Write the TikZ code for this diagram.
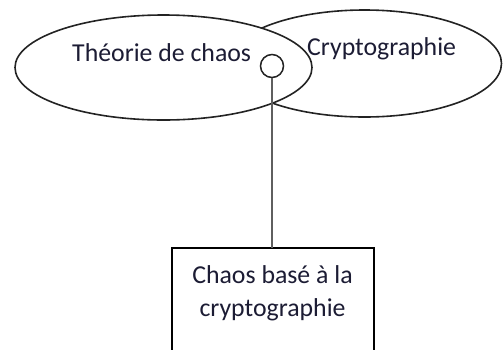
\documentclass[tikz,border=0pt]{standalone}
\usepackage{fontspec}
\setmainfont{Carlito}
\usetikzlibrary{shapes.geometric}
\definecolor{ink}{RGB}{28,28,52}
\definecolor{rim}{RGB}{35,35,35}
\definecolor{stem}{RGB}{95,95,95}
\begin{document}
\begin{tikzpicture}[x=1pt,y=-1pt,
  oval/.style={draw=rim, line width=1.6pt, fill=white, ellipse, inner sep=0pt, outer sep=0pt},
  tag/.style={text=ink, inner sep=0pt, font=\fontsize{25.8}{33}\selectfont},
  knob/.style={draw=rim, line width=1.5pt, fill=white, circle, inner sep=0pt, minimum size=23pt},
  card/.style={draw=black, line width=1.6pt, fill=white, inner sep=0pt, outer sep=0pt, anchor=north},
  link/.style={draw=stem, line width=2pt}]
  \useasboundingbox (0,0) rectangle (503,349);
  \clip (0,0) rectangle (503,349);
  % overlapping fields: cryptography behind, chaos theory in front
  \node[oval, minimum width=274pt, minimum height=107pt] (crypto) at (364.5,63.5) {};
  \node[oval, minimum width=297pt, minimum height=105pt] (chaos) at (163.5,67.5) {};
  \node[tag, anchor=base west] (chaostxt) at (72,61) {Théorie de chaos};
  \node[tag, anchor=base west] (cryptotxt) at (307,55) {Cryptographie};
  % junction point and the resulting field
  \node[knob] (junction) at (272,66) {};
  \node[card, minimum width=202pt, minimum height=130pt] (result) at (273,248) {};
  \node[tag, align=center, anchor=base] (resulttxt) at (272.5,316) {Chaos basé à la\\cryptographie};
  \draw[link] (junction.south) -- (junction.south |- result.north);
\end{tikzpicture}
\end{document}
